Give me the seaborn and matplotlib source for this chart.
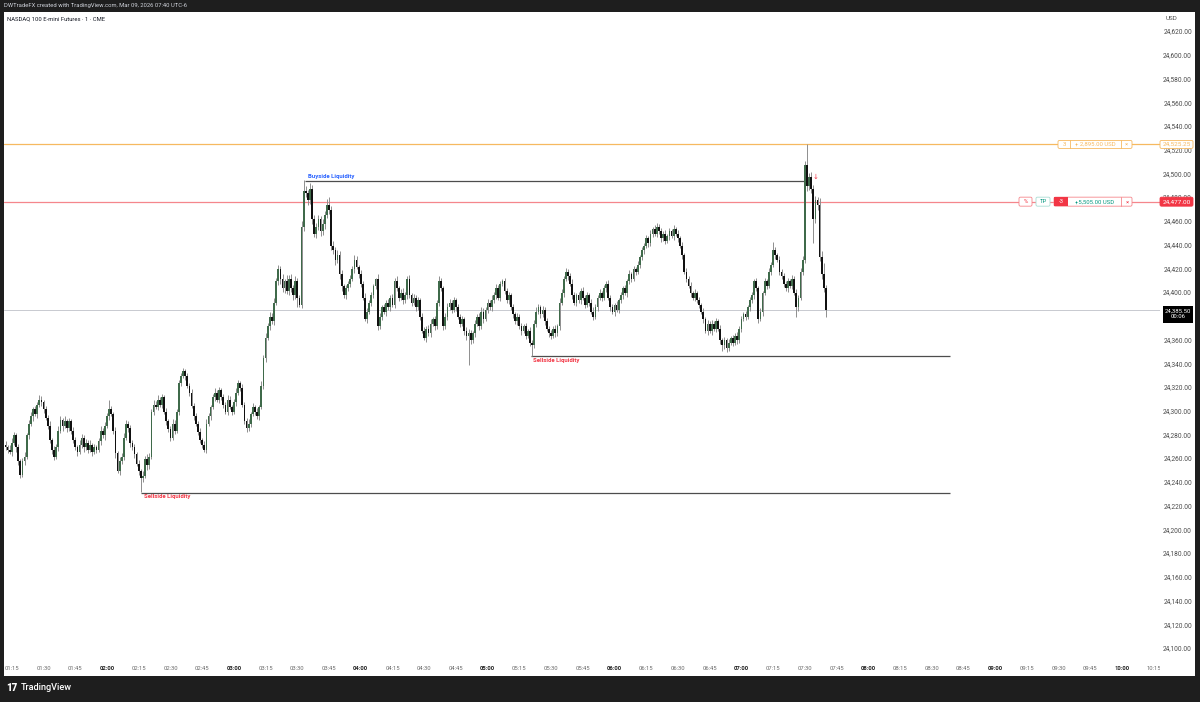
import numpy as np
import pandas as pd
import matplotlib
matplotlib.use("Agg")
import matplotlib.pyplot as plt
import matplotlib.transforms as mtransforms
from matplotlib.patches import Rectangle, FancyBboxPatch
import seaborn as sns

# ---------------- data ----------------
first_minute = 12          # minutes after 01:00 of the first 1-minute candle (01:12)
first_open = 24272.0

closes = [
    24270, 24268, 24266,
    24274, 24280, 24270, 24258, 24247, 24258, 24262, 24280, 24290, 24296, 24302, 24298, 24306, 24310, 24308,
    24302, 24295, 24288, 24276, 24268, 24262, 24270, 24284, 24293, 24288, 24292, 24286, 24292, 24284, 24276,
    24270, 24266, 24272, 24278, 24270, 24274, 24268, 24272, 24266, 24270, 24268, 24275, 24284, 24280, 24288,
    24296, 24302, 24298, 24284, 24265, 24250, 24258, 24262, 24278, 24290, 24286, 24274, 24270, 24264, 24256,
    24250, 24244, 24246, 24260, 24255, 24262, 24300, 24306, 24304, 24310, 24306, 24312, 24300, 24292, 24285,
    24278, 24290, 24284, 24300, 24324, 24330, 24334, 24330, 24322, 24316, 24305, 24296, 24290, 24283, 24276,
    24272, 24268, 24290, 24296, 24304, 24312, 24316, 24310, 24318, 24312, 24306, 24300, 24310, 24304, 24300,
    24308, 24316, 24324, 24320, 24306, 24292, 24286, 24290, 24298, 24304, 24300, 24296, 24304, 24322, 24345,
    24362, 24372, 24380, 24376, 24392, 24410, 24420, 24412, 24404, 24410, 24402, 24412, 24404, 24398, 24410,
    24396, 24390, 24456, 24486, 24484, 24478, 24488, 24462, 24450, 24456, 24462, 24452, 24458, 24466, 24474,
    24470, 24440, 24436, 24428, 24432, 24416, 24406, 24398, 24404, 24408, 24412, 24420, 24428, 24422, 24416,
    24408, 24396, 24378, 24384, 24392, 24398, 24406, 24412, 24372, 24380, 24388, 24384, 24392, 24388, 24396,
    24390, 24410, 24404, 24396, 24400, 24394, 24398, 24412, 24398, 24392, 24396, 24388, 24394, 24380, 24368,
    24362, 24370, 24366, 24374, 24378, 24372, 24392, 24410, 24404, 24372, 24380, 24388, 24392, 24386, 24394,
    24388, 24380, 24374, 24378, 24368, 24364, 24366, 24360, 24366, 24374, 24380, 24372, 24384, 24378, 24386,
    24392, 24388, 24394, 24398, 24404, 24396, 24408, 24410, 24402, 24394, 24398, 24388, 24382, 24376, 24380,
    24372, 24368, 24372, 24364, 24368, 24358, 24356, 24374, 24384, 24388, 24382, 24386, 24376, 24370, 24366,
    24364, 24370, 24366, 24372, 24392, 24400, 24412, 24418, 24414, 24408, 24398, 24392, 24398, 24394, 24402,
    24396, 24390, 24398, 24392, 24384, 24380, 24388, 24396, 24400, 24396, 24404, 24408, 24396, 24388, 24384,
    24390, 24386, 24394, 24398, 24404, 24400, 24410, 24416, 24412, 24420, 24418, 24424, 24430, 24436, 24440,
    24446, 24442, 24450, 24454, 24450, 24456, 24452, 24446, 24450, 24444, 24448, 24452, 24448, 24454, 24450,
    24446, 24440, 24432, 24418, 24412, 24406, 24400, 24396, 24400, 24394, 24390, 24384, 24378, 24368, 24374,
    24368, 24374, 24370, 24376, 24370, 24360, 24356, 24360, 24354, 24358, 24362, 24358, 24364, 24360, 24370,
    24378, 24382, 24380, 24388, 24394, 24398, 24410, 24404, 24378, 24384, 24400, 24410, 24406, 24418, 24424,
    24436, 24432, 24428, 24418, 24414, 24408, 24404, 24410, 24406, 24412, 24400, 24388, 24396, 24418, 24428,
    24508, 24490, 24498, 24488, 24462, 24478, 24474, 24430, 24416, 24404, 24385.5,
]

wick_up = [
    3, 2, 4,
    4, 3, 2, 3, 2, 3, 4, 2, 3, 4, 2, 3, 2, 4, 3,
    2, 3, 2, 4, 2, 3, 3, 4, 3, 2, 4, 2, 3, 2, 3,
    3, 2, 4, 3, 2, 3, 2, 4, 2, 3, 2, 3, 4, 2, 3,
    3, 8, 3, 2, 3, 2, 4, 3, 4, 3, 2, 3, 2, 3, 2,
    3, 2, 4, 3, 4, 3, 2, 4, 3, 4, 2, 3, 2, 3, 2,
    3, 4, 3, 2, 3, 3, 3, 2, 3, 2, 3, 2, 3, 2, 3,
    2, 3, 4, 3, 2, 3, 4, 2, 3, 2, 3, 2, 4, 3, 2,
    3, 4, 3, 2, 3, 2, 3, 4, 2, 3, 2, 3, 2, 4, 3,
    4, 3, 4, 3, 4, 3, 4, 3, 4, 2, 5, 3, 4, 3, 4,
    3, 2, 5, 9.5, 4, 3, 5, 3, 4, 3, 4, 3, 4, 3, 5,
    7, 3, 4, 3, 4, 3, 3, 2, 3, 2, 3, 3, 4, 3, 2,
    3, 2, 4, 3, 2, 3, 2, 1, 4, 3, 2, 3, 2, 3, 2,
    3, 3, 4, 2, 3, 4, 3, 2, 3, 2, 3, 2, 3, 2, 3,
    3, 2, 3, 4, 2, 3, 2, 4, 3, 2, 3, 4, 3, 2, 3,
    2, 3, 2, 3, 2, 3, 4, 3, 2, 3, 2, 3, 4, 3, 2,
    3, 2, 4, 3, 4, 3, 2, 2, 3, 2, 3, 2, 3, 2, 3,
    2, 3, 2, 3, 2, 3, 2, 3, 4, 3, 2, 3, 2, 3, 2,
    3, 2, 3, 2, 4, 3, 2, 3, 2, 3, 4, 3, 2, 3, 2,
    3, 2, 3, 2, 3, 4, 3, 2, 3, 2, 3, 2, 3, 2, 3,
    2, 3, 2, 3, 2, 3, 2, 3, 2, 3, 2, 3, 2, 3, 2,
    3, 2, 3, 2, 3, 3, 2, 3, 2, 3, 2, 3, 2, 3, 2,
    3, 2, 3, 2, 3, 2, 3, 2, 3, 2, 3, 2, 3, 2, 3,
    2, 3, 2, 3, 2, 3, 2, 3, 2, 3, 2, 3, 2, 3, 2,
    3, 2, 3, 2, 3, 3, 2, 3, 2, 3, 2, 3, 2, 3, 2,
    7, 3, 2, 3, 2, 3, 2, 3, 2, 3, 2, 3, 2, 3, 3,
    3, 17.25, 3, 4, 3, 4, 3, 6, 5, 9, 3,
]

wick_dn = [
    2, 3, 2,
    3, 2, 4, 3, 3, 2, 3, 2, 3, 2, 4, 2, 3, 2, 3,
    3, 2, 3, 2, 4, 3, 2, 3, 2, 4, 2, 3, 2, 3, 2,
    2, 3, 2, 3, 4, 2, 3, 2, 3, 2, 3, 2, 3, 2, 4,
    2, 3, 2, 3, 4, 2, 3, 2, 3, 2, 3, 4, 2, 3, 2,
    3, 12, 3, 2, 4, 3, 2, 3, 2, 3, 2, 3, 2, 3, 2,
    3, 2, 3, 2, 3, 2, 2, 3, 2, 3, 2, 3, 2, 3, 2,
    3, 2, 3, 2, 3, 2, 3, 2, 3, 2, 3, 2, 3, 2, 3,
    2, 3, 2, 3, 2, 2, 3, 2, 3, 2, 3, 2, 3, 2, 3,
    3, 2, 3, 2, 3, 2, 3, 4, 3, 4, 3, 4, 3, 4, 3,
    8, 2, 3, 4, 3, 4, 3, 4, 3, 4, 3, 4, 3, 4, 3,
    3, 4, 3, 4, 3, 4, 4, 2, 3, 2, 3, 2, 3, 2, 3,
    3, 2, 2, 3, 2, 3, 2, 3, 3, 2, 3, 2, 3, 2, 3,
    2, 3, 2, 3, 2, 3, 2, 3, 2, 3, 2, 3, 2, 3, 2,
    2, 3, 2, 3, 2, 3, 2, 3, 2, 3, 2, 3, 2, 3, 2,
    3, 2, 3, 2, 3, 4, 25, 3, 2, 3, 2, 3, 2, 3, 2,
    3, 2, 3, 2, 3, 2, 3, 2, 3, 2, 3, 2, 3, 2, 3,
    2, 3, 2, 3, 2, 3, 9, 2, 3, 2, 3, 2, 3, 2, 3,
    3, 2, 3, 2, 3, 2, 3, 2, 3, 2, 3, 2, 3, 2, 3,
    2, 3, 2, 3, 2, 3, 2, 3, 2, 3, 2, 3, 2, 3, 2,
    3, 2, 3, 2, 3, 2, 3, 2, 3, 2, 3, 2, 3, 2, 3,
    2, 3, 2, 3, 2, 3, 2, 3, 2, 3, 2, 3, 2, 3, 2,
    3, 2, 3, 2, 3, 2, 3, 2, 3, 2, 3, 2, 3, 2, 3,
    2, 3, 2, 3, 2, 3, 5, 3, 4, 3, 2, 3, 2, 3, 2,
    3, 2, 3, 2, 3, 2, 3, 2, 3, 2, 3, 2, 3, 2, 3,
    2, 3, 2, 3, 2, 3, 2, 3, 2, 3, 2, 8, 3, 2, 3,
    3, 4, 3, 4, 20, 3, 4, 3, 4, 3, 5.5,
]

time_labels = ["01:15", "01:30", "01:45", "02:00", "02:15", "02:30", "02:45", "03:00",
               "03:15", "03:30", "03:45", "04:00", "04:15", "04:30", "04:45", "05:00",
               "05:15", "05:30", "05:45", "06:00", "06:15", "06:30", "06:45", "07:00",
               "07:15", "07:30", "07:45", "08:00", "08:15", "08:30", "08:45", "09:00",
               "09:15", "09:30", "09:45", "10:00", "10:15"]
price_ticks = list(range(24100, 24621, 20))

# horizontal levels
sl_price = 24525.25        # orange order line
tp_price = 24477.00        # red order line
last_price = 24385.50
buyside_level = 24494.7
sellside_level_1 = 24231.7
sellside_level_2 = 24347.2
buyside_span = (153.6, 390.8)
sellside_1_span = (76.0, 458.7)
sellside_2_span = (260.5, 458.7)

# ---------------- frame ----------------
W, H = 1200, 702
sns.set_theme(style="white")
plt.rcParams["font.family"] = ["Roboto", "DejaVu Sans"]

fig = plt.figure(figsize=(W / 100, H / 100), dpi=100)
fig.patch.set_facecolor("#1e1e1e")
ident = mtransforms.IdentityTransform()

# white chart area
fig.add_artist(Rectangle((4, 26), 1191, 664, transform=ident, fc="white", ec="none", zorder=-5))

ax = fig.add_axes([4 / W, 40 / H, 1156 / W, 650 / H])
ax.set_facecolor("none")
ax.set_xlim(11.29, 557.97)
ax.set_ylim(24089.0, 24636.86)
ax.axis("off")

# ---------------- candles ----------------
n = len(closes)
df = pd.DataFrame({
    "minute": np.arange(first_minute, first_minute + n),
    "close": closes,
    "up": wick_up,
    "dn": wick_dn,
})
df["open"] = [first_open] + closes[:-1]
df["top"] = df[["open", "close"]].max(axis=1)
df["bot"] = df[["open", "close"]].min(axis=1)
df["high"] = df["top"] + df["up"]
df["low"] = df["bot"] - df["dn"]
df["rising"] = df["close"] >= df["open"]

up_col = "#3f6a4a"
dn_col = "#111111"
wick_col = "#8e8e8e"

ax.vlines(df["minute"], df["low"], df["high"], color=wick_col, lw=0.7, zorder=2)
ax.bar(df["minute"], np.maximum(df["top"] - df["bot"], 0.8), bottom=df["bot"], width=0.82,
       color=np.where(df["rising"], up_col, dn_col), linewidth=0, zorder=3)

# ---------------- levels ----------------
orange = "#f6b960"
redline = "#f5868c"
ax.axhline(sl_price, color=orange, lw=0.9, zorder=1)
ax.axhline(tp_price, color=redline, lw=0.9, zorder=1)
ax.axhline(last_price, color="#c8cad0", lw=0.7, zorder=1)
ax.hlines(buyside_level, *buyside_span, color="#4d4d4d", lw=0.9, zorder=1)
ax.hlines(sellside_level_1, *sellside_1_span, color="#4d4d4d", lw=0.9, zorder=1)
ax.hlines(sellside_level_2, *sellside_2_span, color="#4d4d4d", lw=0.9, zorder=1)

ax.text(155.0, buyside_level + 3.6, "Buyside Liquidity", color="#2962ff", fontsize=4.3,
        fontweight="bold", ha="left", va="center")
ax.text(77.5, sellside_level_1 - 3.6, "Sellside Liquidity", color="#f23645", fontsize=4.3,
        fontweight="bold", ha="left", va="center")
ax.text(261.5, sellside_level_2 - 4.1, "Sellside Liquidity", color="#f23645", fontsize=4.3,
        fontweight="bold", ha="left", va="center")
ax.text(395.0, 24497.0, "↓", color="#f23645", fontsize=5, ha="center", va="center")

# ---------------- time axis ----------------
ax_t = fig.add_axes([4 / W, 26 / H, 1156 / W, 14 / H])
ax_t.set_xlim(ax.get_xlim())
ax_t.set_ylim(0, 1)
ax_t.axis("off")
for lab in time_labels:
    hh, mm = int(lab[:2]), int(lab[3:])
    m = (hh - 1) * 60 + mm
    bold = mm == 0
    ax_t.text(m, 0.5, lab, ha="center", va="center", fontsize=4.2, clip_on=True,
              color="#222222" if bold else "#6a6a6a", fontweight="bold" if bold else "normal")

# ---------------- price axis ----------------
fig.canvas.draw()


def py(price):
    return ax.transData.transform((0, price))[1]


yl = py(last_price)
last_box_lo, last_box_hi = yl - 13, yl + 4

for p in price_ticks:
    yp = py(p)
    if last_box_lo - 2 < yp < last_box_hi + 2:
        continue   # hidden behind the last-price box, as in the reference
    fig.text(1192 / W, yp / H, f"{p:,.2f}", ha="right", va="center", fontsize=4.7,
             color="#4a4a4a")
fig.text(1171 / W, (H - 19) / H, "USD", ha="center", va="center", fontsize=4.5, color="#4a4a4a")


def box(x, yc, w, h, fc, ec, lw=0.6, z=6):
    fig.add_artist(FancyBboxPatch((x, yc - h / 2), w, h, boxstyle="round,pad=0,rounding_size=1.5",
                                  transform=ident, fc=fc, ec=ec, lw=lw, zorder=z))


def label(x, yc, s, color, size=4.3, weight="normal", ha="center", **kw):
    fig.text(x / W, yc / H, s, ha=ha, va="center", fontsize=size, color=color,
             fontweight=weight, zorder=8, **kw)


teal = "#089981"
red = "#f23645"

# orange order widget
yo = py(sl_price)
box(1058, yo, 74, 8, "white", orange)
fig.add_artist(plt.Line2D([1070, 1070], [yo - 4, yo + 4], transform=ident, color=orange, lw=0.6, zorder=7))
fig.add_artist(plt.Line2D([1121, 1121], [yo - 4, yo + 4], transform=ident, color=orange, lw=0.6, zorder=7))
label(1064, yo, "3", orange)
label(1095, yo, "+ 2,895.00 USD", orange)
label(1126.5, yo, "×", orange)
box(1160, yo, 33, 8, "white", orange)
label(1176.5, yo, "24,525.25", orange, size=4.6)

# red order widget
yr = py(tp_price)
box(1019, yr, 13, 9, "white", redline)
label(1025.5, yr, "%", red)
box(1036, yr, 14, 9, "white", "#a9dcd3")
label(1043, yr, "TP", teal)
box(1054, yr, 78, 9, "white", redline)
fig.add_artist(Rectangle((1054, yr - 4.5), 14, 9, transform=ident, fc=red, ec="none", zorder=7))
label(1061, yr, "-3", "white")
fig.add_artist(plt.Line2D([1121, 1121], [yr - 4.5, yr + 4.5], transform=ident, color=redline, lw=0.6, zorder=7))
label(1095, yr, "+5,505.00 USD", teal)
label(1127, yr, "×", red)
box(1160, yr, 33, 9, red, red)
label(1176.5, yr, "24,477.00", "white", size=4.6)

# last price box (price + countdown as one two-line label)
fig.add_artist(Rectangle((1163, last_box_lo), 30, last_box_hi - last_box_lo, transform=ident,
                         fc="#000000", ec="none", zorder=6))
label(1178, yl - 3.5, "24,385.50\n00:06", "white", size=4.3, linespacing=1.15,
      multialignment="center")

# ---------------- header / footer ----------------
fig.text(4 / W, (H - 6) / H, "DWTradeFX created with TradingView.com, Mar 09, 2026 07:40 UTC-6",
         ha="left", va="center", fontsize=4.2, color="#d1d4dc")
fig.text(7 / W, (H - 19) / H, "NASDAQ 100 E-mini Futures · 1 · CME", ha="left", va="center",
         fontsize=4.2, color="#131722")
fig.text(6 / W, 14 / H, "17", ha="left", va="center", fontsize=7, color="white", fontweight="heavy")
fig.text(21 / W, 14 / H, "TradingView", ha="left", va="center", fontsize=6.6, color="white",
         fontweight="medium")

fig.savefig("out.png", dpi=100, facecolor=fig.get_facecolor())
